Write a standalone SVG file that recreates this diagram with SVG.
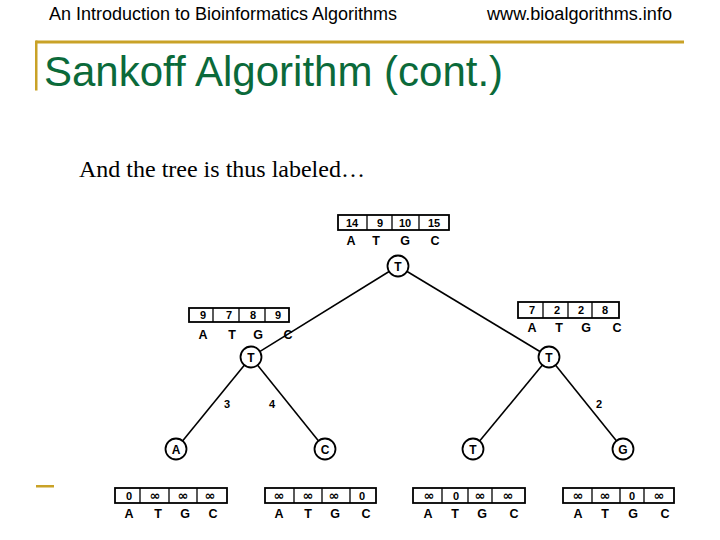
<svg xmlns="http://www.w3.org/2000/svg" width="720" height="540" viewBox="0 0 720 540">
<style>
.hdr{font-family:"Liberation Sans",Arial,sans-serif;font-size:17.5px;fill:#000}
.title{font-family:"Liberation Sans",Arial,sans-serif;font-size:42px;fill:#0b6a3a}
.body{font-family:"Liberation Serif","Times New Roman",serif;font-size:24px;fill:#000}
.tbl{fill:#fff;stroke:#000;stroke-width:1.8}
.div{stroke:#000;stroke-width:1.3}
.val{font-family:"Liberation Sans",Arial,sans-serif;font-size:11px;font-weight:bold;fill:#000;text-anchor:middle}
.inf{font-family:"DejaVu Sans",sans-serif;font-size:13px;font-weight:bold;fill:#000;text-anchor:middle}
.lbl{font-family:"Liberation Sans",Arial,sans-serif;font-size:12.5px;font-weight:bold;fill:#000;text-anchor:middle}
.node circle{fill:#fff;stroke:#000;stroke-width:1.8}
.ntxt{font-family:"Liberation Sans",Arial,sans-serif;font-size:12px;font-weight:bold;fill:#000;text-anchor:middle}
.edge{stroke:#000;stroke-width:1.6;fill:none}
.elbl{font-family:"Liberation Sans",Arial,sans-serif;font-size:11px;font-weight:bold;fill:#000;text-anchor:middle}
.gold{fill:#c9a227}
</style>
<text class="hdr" x="49" y="20" textLength="348" lengthAdjust="spacingAndGlyphs">An Introduction to Bioinformatics Algorithms</text>
<text class="hdr" x="487" y="20" textLength="185" lengthAdjust="spacingAndGlyphs">www.bioalgorithms.info</text>
<rect class="gold" x="36" y="40.5" width="648" height="3"/>
<rect class="gold" x="35" y="40.5" width="2.5" height="50"/>
<rect class="gold" x="36" y="485" width="18" height="2.5"/>
<text class="title" x="44" y="86">Sankoff Algorithm (cont.)</text>
<text class="body" x="79" y="177">And the tree is thus labeled…</text>

<g id="connectors">
<line class="edge" x1="398" y1="266" x2="251" y2="357"/>
<line class="edge" x1="398" y1="266" x2="549" y2="357"/>
<line class="edge" x1="251" y1="357" x2="176" y2="449"/>
<line class="edge" x1="251" y1="357" x2="325" y2="449"/>
<line class="edge" x1="549" y1="357" x2="473" y2="449"/>
<line class="edge" x1="549" y1="357" x2="623" y2="449"/>
<text class="elbl" x="227" y="408">3</text>
<text class="elbl" x="272" y="408">4</text>
<text class="elbl" x="599" y="408">2</text>
</g>

<g id="root">
<rect class="tbl" x="338" y="215" width="111" height="15"/>
<line class="div" x1="367" y1="215" x2="367" y2="230"/>
<line class="div" x1="392" y1="215" x2="392" y2="230"/>
<line class="div" x1="419" y1="215" x2="419" y2="230"/>
<text class="val" x="352" y="226.5">14</text>
<text class="val" x="380" y="226.5">9</text>
<text class="val" x="405" y="226.5">10</text>
<text class="val" x="434" y="226.5">15</text>
<text class="lbl" x="351" y="245">A</text>
<text class="lbl" x="376" y="245">T</text>
<text class="lbl" x="405" y="245">G</text>
<text class="lbl" x="435" y="245">C</text>
<g class="node"><circle cx="398" cy="266" r="10.5"/><text class="ntxt" x="398" y="270.5">T</text></g>
</g>

<g id="left">
<rect class="tbl" x="189" y="308" width="100" height="14"/>
<line class="div" x1="213" y1="308" x2="213" y2="322"/>
<line class="div" x1="239" y1="308" x2="239" y2="322"/>
<line class="div" x1="265" y1="308" x2="265" y2="322"/>
<text class="val" x="203" y="319">9</text>
<text class="val" x="229" y="319">7</text>
<text class="val" x="253" y="319">8</text>
<text class="val" x="278" y="319">9</text>
<text class="lbl" x="203" y="339">A</text>
<text class="lbl" x="232" y="339">T</text>
<text class="lbl" x="258" y="339">G</text>
<text class="lbl" x="288" y="339">C</text>
<g class="node"><circle cx="251" cy="357" r="10.5"/><text class="ntxt" x="251" y="361.5">T</text></g>
</g>

<g id="right">
<rect class="tbl" x="518" y="302" width="101" height="16"/>
<line class="div" x1="543" y1="302" x2="543" y2="318"/>
<line class="div" x1="568" y1="302" x2="568" y2="318"/>
<line class="div" x1="592" y1="302" x2="592" y2="318"/>
<text class="val" x="532" y="314">7</text>
<text class="val" x="557" y="314">2</text>
<text class="val" x="581" y="314">2</text>
<text class="val" x="605" y="314">8</text>
<text class="lbl" x="532" y="332">A</text>
<text class="lbl" x="559" y="332">T</text>
<text class="lbl" x="586" y="332">G</text>
<text class="lbl" x="617" y="332">C</text>
<g class="node"><circle cx="549" cy="357" r="10.5"/><text class="ntxt" x="549" y="361.5">T</text></g>
</g>

<g id="leafA">
<g class="node"><circle cx="176" cy="449" r="10.5"/><text class="ntxt" x="176" y="453.5">A</text></g>
<rect class="tbl" x="115" y="488" width="112" height="15"/>
<line class="div" x1="140" y1="488" x2="140" y2="503"/>
<line class="div" x1="169" y1="488" x2="169" y2="503"/>
<line class="div" x1="197" y1="488" x2="197" y2="503"/>
<text class="val" x="129" y="499.5">0</text>
<text class="inf" x="155" y="500">∞</text>
<text class="inf" x="183" y="500">∞</text>
<text class="inf" x="210" y="500">∞</text>
<text class="lbl" x="129" y="518">A</text>
<text class="lbl" x="158" y="518">T</text>
<text class="lbl" x="185" y="518">G</text>
<text class="lbl" x="213" y="518">C</text>
</g>

<g id="leafC">
<g class="node"><circle cx="325" cy="449" r="10.5"/><text class="ntxt" x="325" y="453.5">C</text></g>
<rect class="tbl" x="265" y="488" width="111" height="15"/>
<line class="div" x1="294" y1="488" x2="294" y2="503"/>
<line class="div" x1="322" y1="488" x2="322" y2="503"/>
<line class="div" x1="350" y1="488" x2="350" y2="503"/>
<text class="inf" x="279" y="500">∞</text>
<text class="inf" x="308" y="500">∞</text>
<text class="inf" x="334" y="500">∞</text>
<text class="val" x="362" y="499.5">0</text>
<text class="lbl" x="279" y="518">A</text>
<text class="lbl" x="308" y="518">T</text>
<text class="lbl" x="335" y="518">G</text>
<text class="lbl" x="366" y="518">C</text>
</g>

<g id="leafT">
<g class="node"><circle cx="473" cy="449" r="10.5"/><text class="ntxt" x="473" y="453.5">T</text></g>
<rect class="tbl" x="413" y="488" width="112" height="15"/>
<line class="div" x1="442" y1="488" x2="442" y2="503"/>
<line class="div" x1="468" y1="488" x2="468" y2="503"/>
<line class="div" x1="492" y1="488" x2="492" y2="503"/>
<text class="inf" x="429" y="500">∞</text>
<text class="val" x="456" y="499.5">0</text>
<text class="inf" x="480" y="500">∞</text>
<text class="inf" x="508" y="500">∞</text>
<text class="lbl" x="428" y="518">A</text>
<text class="lbl" x="455" y="518">T</text>
<text class="lbl" x="482" y="518">G</text>
<text class="lbl" x="514" y="518">C</text>
</g>

<g id="leafG">
<g class="node"><circle cx="623" cy="449" r="10.5"/><text class="ntxt" x="623" y="453.5">G</text></g>
<rect class="tbl" x="563" y="488" width="111" height="15"/>
<line class="div" x1="592" y1="488" x2="592" y2="503"/>
<line class="div" x1="620" y1="488" x2="620" y2="503"/>
<line class="div" x1="644" y1="488" x2="644" y2="503"/>
<text class="inf" x="578" y="500">∞</text>
<text class="inf" x="605" y="500">∞</text>
<text class="val" x="632" y="499.5">0</text>
<text class="inf" x="659" y="500">∞</text>
<text class="lbl" x="578" y="518">A</text>
<text class="lbl" x="605" y="518">T</text>
<text class="lbl" x="633" y="518">G</text>
<text class="lbl" x="665" y="518">C</text>
</g>
</svg>
